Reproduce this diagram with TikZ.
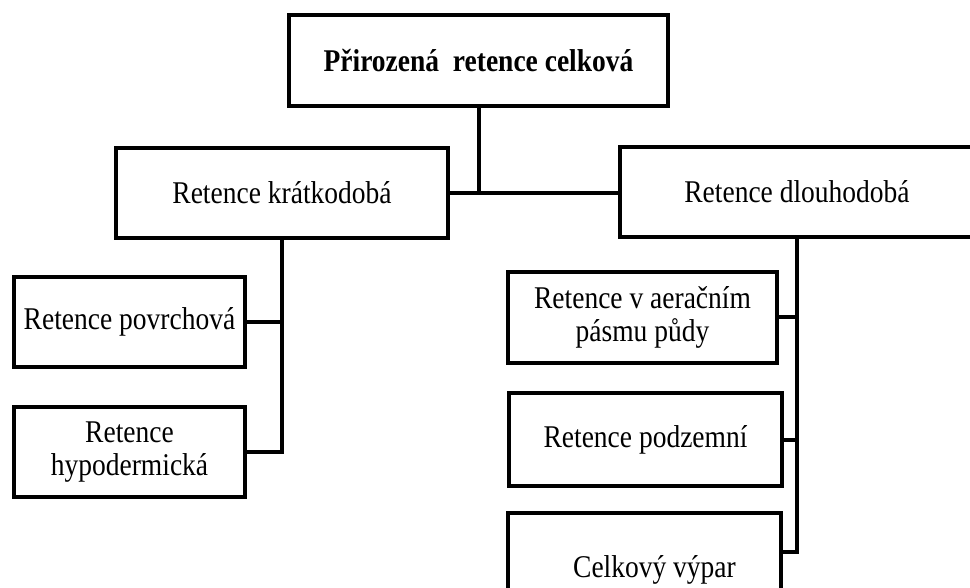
\documentclass[tikz,border=0pt]{standalone}
\usepackage{fontspec}
\usepackage{graphicx}
\setmainfont{Liberation Serif}
\newcommand{\tallt}[1]{\scalebox{1}[1.15]{#1}}
\begin{document}
\begin{tikzpicture}[x=1pt,y=-1pt,
  box/.style={draw=black, line width=4pt, rectangle, inner sep=0pt, outer sep=0pt,
    align=center, font=\fontsize{27.5}{33}\selectfont},
  conn/.style={draw=black, line width=4pt, line cap=rect}]
\useasboundingbox (0,0) rectangle (970,588);
\clip (0,0) rectangle (970,588);
\node[box, minimum width=379pt, minimum height=91pt, font=\fontsize{27.5}{33}\selectfont\bfseries] (top) at (478.5,60.5) {\tallt{Přirozená\ \ retence celková}};
\node[box, minimum width=332pt, minimum height=90pt] (K) at (282,193) {\tallt{Retence krátkodobá}};
\node[box, minimum width=354pt, minimum height=90pt] (D) at (797,192) {\tallt{Retence dlouhodobá}};
\node[box, minimum width=231pt, minimum height=90pt] (L1) at (129.5,322) {\tallt{Retence povrchová}};
\node[box, minimum width=231pt, minimum height=90pt] (L2) at (129.5,452) {\tallt{Retence}\\\tallt{hypodermická}};
\node[box, minimum width=269pt, minimum height=91pt] (R1) at (642.5,317.5) {\tallt{Retence v aeračním}\\\tallt{pásmu půdy}};
\node[box, minimum width=273pt, minimum height=93pt] (R2) at (645.5,439.5) {\tallt{Retence podzemní}};
\node[box, minimum width=273pt, minimum height=114pt] (R3) at (644.5,570) {\hspace*{20pt}\tallt{Celkový výpar}};
\coordinate (R3c) at ([yshift=18pt]R3.east);
\draw[conn] (top.south) -- (top.south |- K.east);
\draw[conn] (K.east) -- (K.east -| D.west);
\draw[conn] (L1.east) -- (L1.east -| K.south);
\draw[conn] (K.south) |- (L2.east);
\draw[conn] (R1.east) -- (R1.east -| D.south);
\draw[conn] (R2.east) -- (R2.east -| D.south);
\draw[conn] (D.south) |- (R3c);
\end{tikzpicture}
\end{document}
